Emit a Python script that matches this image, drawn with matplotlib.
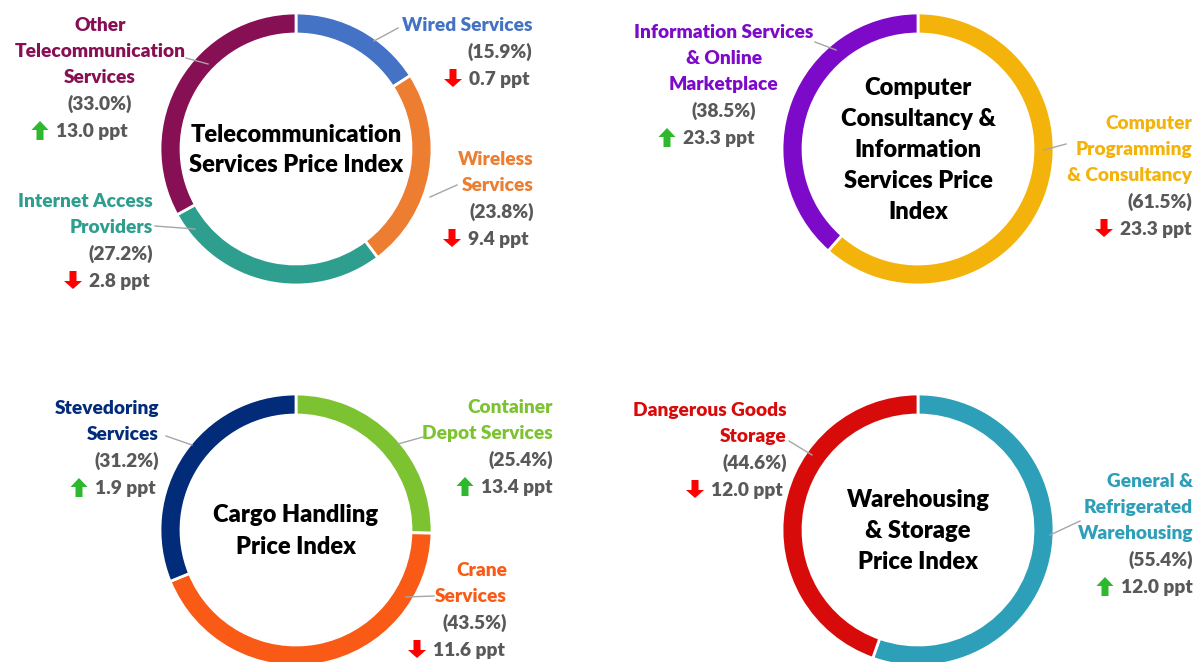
import matplotlib.pyplot as plt

W, H = 1200, 662

# ---- data (clockwise from 12 o'clock) ----
tele_names = ["Wired Services", "Wireless\nServices", "Internet Access\nProviders",
              "Other\nTelecommunication\nServices"]
tele_share = [15.9, 23.8, 27.2, 33.0]
tele_change = [-0.7, -9.4, -2.8, 13.0]
tele_colors = ["#4472C4", "#ED7D31", "#2E9E8F", "#870F54"]
tele_title = "Telecommunication\nServices Price Index"

comp_names = ["Computer\nProgramming\n& Consultancy", "Information Services\n& Online\nMarketplace"]
comp_share = [61.5, 38.5]
comp_change = [-23.3, 23.3]
comp_colors = ["#F4B30A", "#7E0AC9"]
comp_title = "Computer\nConsultancy &\nInformation\nServices Price\nIndex"

cargo_names = ["Container\nDepot Services", "Crane\nServices", "Stevedoring\nServices"]
cargo_share = [25.4, 43.5, 31.2]
cargo_change = [13.4, -11.6, 1.9]
cargo_colors = ["#7DC331", "#F95B17", "#022B7A"]
cargo_title = "Cargo Handling\nPrice Index"

ware_names = ["General &\nRefrigerated\nWarehousing", "Dangerous Goods\nStorage"]
ware_share = [55.4, 44.6]
ware_change = [12.0, -12.0]
ware_colors = ["#2E9FB8", "#D80B0B"]
ware_title = "Warehousing\n& Storage\nPrice Index"

# ---- layout (pixel coords, y measured from top) ----
# donut centre, label blocks: (x, ha, first line y, ppt text left x), leader lines
panels = [
    dict(names=tele_names, share=tele_share, change=tele_change, colors=tele_colors,
         title=tele_title, center=(296, 149),
         labels=[(532, "right", 24, 469), (534, "right", 158, 468),
                 (153, "right", 200, 89), (100, "center", 24, 56)],
         leaders=[(398, 28, 374, 41), (457, 185, 430, 197),
                  (155, 226, 195, 229), (186, 58, 208, 64)]),
    dict(names=comp_names, share=comp_share, change=comp_change, colors=comp_colors,
         title=comp_title, center=(918, 149),
         labels=[(1192, "right", 122, 1120), (724, "center", 31, 683)],
         leaders=[(1066, 144, 1044, 150), (815, 42, 836, 50)]),
    dict(names=cargo_names, share=cargo_share, change=cargo_change, colors=cargo_colors,
         title=cargo_title, center=(296, 530),
         labels=[(553, "right", 406, 481), (507, "right", 569, 433),
                 (159, "right", 407, 95)],
         leaders=[(423, 437, 398, 444), (434, 596, 406, 597), (166, 436, 192, 445)]),
    dict(names=ware_names, share=ware_share, change=ware_change, colors=ware_colors,
         title=ware_title, center=(918, 530),
         labels=[(1193, "right", 480, 1121), (787, "right", 409, 711)],
         leaders=[(1080, 521, 1050, 535), (789, 441, 812, 455)]),
]

R, RING = 136, 21
LINE = 26
FONT = "Lato"
WEIGHT = "heavy"
FS = 13.8
GREY = "#595959"
UP, DOWN = "#2DB82D", "#FF0000"


def py(y):
    return H - y


fig = plt.figure(figsize=(12, 6.62), dpi=100)
ax = fig.add_axes([0, 0, 1, 1])

for p in panels:
    cx, cy = p["center"]
    ax.pie(p["share"], colors=p["colors"], radius=R, center=(cx, py(cy)),
           startangle=90, counterclock=False, frame=True,
           wedgeprops=dict(width=RING, edgecolor="white", linewidth=2))
    ax.text(cx, py(cy + 1), p["title"], ha="center", va="center", ma="center",
            fontsize=17, fontweight=WEIGHT, family=FONT, color="black",
            linespacing=1.5)

    for (x1, y1, x2, y2) in p["leaders"]:
        ax.plot([x1, x2], [py(y1), py(y2)], color="#A6A6A6", lw=1, zorder=1)

    for name, share, chg, col, (x, ha, y0, tx) in zip(p["names"], p["share"], p["change"],
                                                       p["colors"], p["labels"]):
        lines = name.split("\n")
        y = y0
        for ln in lines:
            ax.text(x, py(y), ln, ha=ha, va="center_baseline", fontsize=FS,
                    fontweight=WEIGHT, family=FONT, color=col)
            y += LINE
        ax.text(x, py(y), f"({share:.1f}%)", ha=ha, va="center_baseline", fontsize=FS,
                fontweight=WEIGHT, family=FONT, color=GREY)
        y += 28
        ax.text(tx, py(y), f"{abs(chg):.1f} ppt", ha="left", va="center_baseline",
                fontsize=FS, fontweight=WEIGHT, family=FONT, color=GREY)
        ax_x = tx - 16
        if chg >= 0:
            ax.arrow(ax_x, py(y + 10), 0, 19, width=7, head_width=17, head_length=9,
                     length_includes_head=True, color=UP, lw=0)
        else:
            ax.arrow(ax_x, py(y - 9), 0, -18, width=7, head_width=18, head_length=8,
                     length_includes_head=True, color=DOWN, lw=0)

ax.set_xlim(0, W)
ax.set_ylim(0, H)
ax.set_aspect("equal")
ax.axis("off")

fig.savefig("out.png", dpi=100, facecolor="white")
plt.close(fig)
